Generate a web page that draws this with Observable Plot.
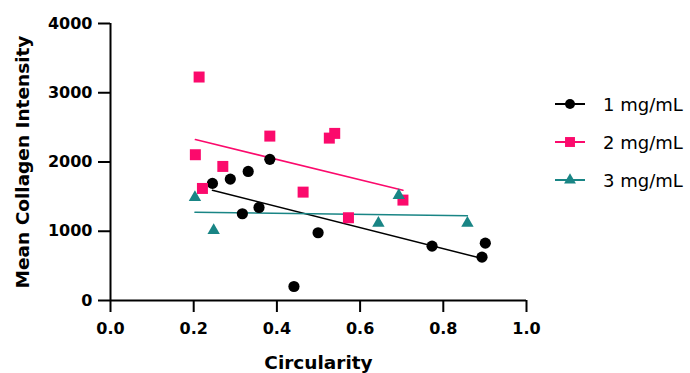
<!DOCTYPE html>
<html>
<head>
<meta charset="utf-8">
<script src="https://cdn.jsdelivr.net/npm/d3@7"></script>
<script src="https://cdn.jsdelivr.net/npm/@observablehq/plot@0.6"></script>
<style>
  body { margin: 0; background: #fff; }
  #wrap { position: relative; width: 690px; height: 373px; font-family: "DejaVu Sans", sans-serif; }
  #legend { position: absolute; left: 553px; top: 0; }
  .row { position: absolute; left: 0; height: 24px; display: flex; align-items: center; white-space: nowrap; font-size: 18px; color: #000; }
  .row svg { margin-right: 16px; }
</style>
</head>
<body>
<div id="wrap"></div>
<script>
// ---- data ----
const seriesNames = ["1 mg/mL", "2 mg/mL", "3 mg/mL"];
const seriesColors = ["#000000", "#fb0a6c", "#198585"];
const seriesSymbols = ["circle", "square", "triangle"];

const circ1 = [0.245, 0.288, 0.331, 0.383, 0.317, 0.357, 0.441, 0.499, 0.773, 0.901, 0.893];
const int1  = [1691, 1753, 1864, 2038, 1253, 1344, 202, 978, 785, 828, 626];

const circ2 = [0.213, 0.204, 0.270, 0.221, 0.383, 0.463, 0.526, 0.539, 0.703, 0.572];
const int2  = [3227, 2105, 1936, 1618, 2374, 1565, 2345, 2413, 1450, 1195];

const circ3 = [0.203, 0.248, 0.644, 0.858, 0.693];
const int3  = [1490, 1011, 1117, 1117, 1517];

const xTicks = [0, 0.2, 0.4, 0.6, 0.8, 1.0];
const yTicks = [0, 1000, 2000, 3000, 4000];

// ---- build ----
const seriesX = [circ1, circ2, circ3];
const seriesY = [int1, int2, int3];
const tables = seriesX.map((xs, i) => xs.map((x, j) => ({x, y: seriesY[i][j]})));
const symR = [5.6, 6.2, 4.6];

const marks = [];
tables.forEach((t, i) => {
  marks.push(Plot.linearRegressionY(t, {x: "x", y: "y", stroke: seriesColors[i], strokeWidth: 1.5, ci: 0}));
});
tables.forEach((t, i) => {
  marks.push(Plot.dot(t, {x: "x", y: "y", symbol: seriesSymbols[i], fill: seriesColors[i], stroke: "none", r: symR[i]}));
});

const chart = Plot.plot({
  width: 690,
  height: 373,
  marginLeft: 110,
  marginRight: 164,
  marginTop: 23,
  marginBottom: 73,
  style: {fontFamily: "DejaVu Sans", color: "#000", background: "#fff"},
  x: {domain: [0, 1]},
  y: {domain: [0, 4000]},
  marks: [
    Plot.axisX({ticks: xTicks, tickFormat: d3.format(".1f"), tickSize: 12, tickPadding: 10, strokeWidth: 2,
      fontSize: 16, fontWeight: "bold", label: "Circularity", labelAnchor: "center", labelArrow: "none", labelOffset: 68}),
    Plot.axisY({ticks: yTicks, tickFormat: d3.format("d"), tickSize: 12, tickPadding: 6, strokeWidth: 2,
      fontSize: 16, fontWeight: "bold", label: "Mean Collagen Intensity", labelAnchor: "center", labelArrow: "none", labelOffset: 95}),
    Plot.ruleX([0], {strokeWidth: 2}),
    Plot.ruleY([0], {strokeWidth: 2}),
    ...marks
  ]
});
d3.select(chart).selectAll("[aria-label='x-axis label'] text, [aria-label='y-axis label'] text")
  .attr("font-size", 18.5).attr("font-weight", "bold");

const wrap = document.getElementById("wrap");
wrap.appendChild(chart);

// ---- legend ----
const legend = document.createElement("div");
legend.id = "legend";
const rowY = [92, 130, 168];
seriesNames.forEach((name, i) => {
  const row = document.createElement("div");
  row.className = "row";
  row.style.top = rowY[i] + "px";
  const svg = d3.create("svg").attr("width", 34).attr("height", 24);
  svg.append("line").attr("x1", 2).attr("x2", 32).attr("y1", 12).attr("y2", 12)
    .attr("stroke", seriesColors[i]).attr("stroke-width", 2);
  const sym = {circle: d3.symbolCircle, square: d3.symbolSquare, triangle: d3.symbolTriangle}[seriesSymbols[i]];
  const rr = [5, 5.6, 4.4][i];
  svg.append("path").attr("d", d3.symbol(sym, Math.PI * rr * rr)())
    .attr("transform", "translate(17,12)").attr("fill", seriesColors[i]);
  row.appendChild(svg.node());
  const span = document.createElement("span");
  span.textContent = name;
  row.appendChild(span);
  legend.appendChild(row);
});
wrap.appendChild(legend);
</script>
</body>
</html>
